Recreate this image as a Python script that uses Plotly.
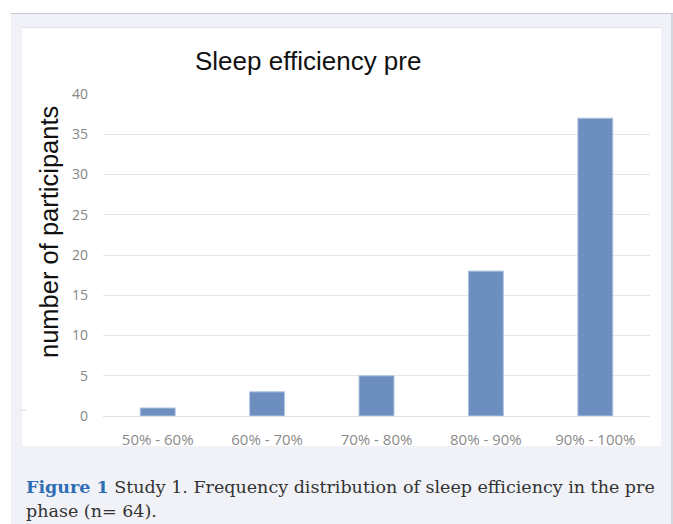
import plotly.graph_objects as go

categories = ["50% - 60%", "60% - 70%", "70% - 80%", "80% - 90%", "90% - 100%"]
participants = [1, 3, 5, 18, 37]
y_ticks = [0, 5, 10, 15, 20, 25, 30, 35, 40]

W, H = 673, 524
L, R, T, B = 103, 23, 94, 108
PW, PH = W - L - R, H - T - B

def px(x):
    return (x - L) / PW

def py(y):
    return (H - B - y) / PH

fig = go.Figure()
fig.add_trace(go.Bar(
    x=categories, y=participants,
    marker=dict(color="#6d8fc0", line=dict(color="#b3c6e0", width=1)),
    width=0.32,
))

shapes = [
    dict(type="rect", xref="paper", yref="paper", x0=px(11), x1=px(673), y0=py(524), y1=py(13),
         fillcolor="#f0f2f7", line=dict(width=0), layer="below"),
    dict(type="line", xref="paper", yref="paper", x0=px(11), x1=px(673), y0=py(13.5), y1=py(13.5),
         line=dict(color="#c4c6cc", width=1.2), layer="below"),
    dict(type="line", xref="paper", yref="paper", x0=px(672), x1=px(672), y0=py(13), y1=py(524),
         line=dict(color="#c4c6cc", width=1.2), layer="below"),
    dict(type="rect", xref="paper", yref="paper", x0=px(22), x1=px(661), y0=py(446), y1=py(27),
         fillcolor="white", line=dict(width=0), layer="below"),
    dict(type="line", xref="paper", yref="paper", x0=px(22), x1=px(661), y0=py(27.5), y1=py(27.5),
         line=dict(color="#e2e3e6", width=1), layer="below"),
    dict(type="line", xref="paper", yref="paper", x0=px(20), x1=px(26), y0=py(410), y1=py(410),
         line=dict(color="#d8d8d8", width=1), layer="below"),
]

annotations = [
    dict(text="Sleep efficiency pre", xref="paper", yref="paper", x=px(307.5), y=py(61),
         showarrow=False, xanchor="center", yanchor="middle",
         font=dict(family="Liberation Sans, Arial", size=26, color="#111111")),
    dict(text="number of participants", xref="paper", yref="paper", x=px(49), y=py(232),
         showarrow=False, xanchor="center", yanchor="middle", textangle=-90,
         font=dict(family="Liberation Sans, Arial", size=25.5, color="#111111")),
    dict(text="<b><span style='color:#2f6db5'>Figure 1</span></b> Study 1. Frequency distribution of sleep efficiency in the pre",
         xref="paper", yref="paper", x=px(24), y=py(487), showarrow=False,
         xanchor="left", yanchor="middle",
         font=dict(family="DejaVu Serif", size=17.5, color="#333333")),
    dict(text="phase (n= 64).",
         xref="paper", yref="paper", x=px(24), y=py(511), showarrow=False,
         xanchor="left", yanchor="middle",
         font=dict(family="DejaVu Serif", size=17.5, color="#333333")),
]

fig.update_layout(
    width=W, height=H,
    margin=dict(l=L, r=R, t=T, b=B),
    paper_bgcolor="white", plot_bgcolor="rgba(0,0,0,0)",
    showlegend=False,
    shapes=shapes, annotations=annotations,
)
fig.update_yaxes(
    range=[0, 40], tickvals=y_ticks, showgrid=True, gridcolor="#e6e6e6", gridwidth=1,
    zeroline=True, zerolinecolor="#e0e0e0", zerolinewidth=1,
    tickfont=dict(family="Open Sans, Liberation Sans", size=14, color="#858585"),
    ticks="", ticklabelstandoff=14,
)
fig.update_xaxes(
    showgrid=False, showline=False,
    tickfont=dict(family="Open Sans, Liberation Sans", size=15, color="#8a8a8a"),
    ticks="", ticklabelstandoff=13,
)

fig.write_html("out.html", config={"displayModeBar": False},
               post_script="document.body.style.margin='0';")
